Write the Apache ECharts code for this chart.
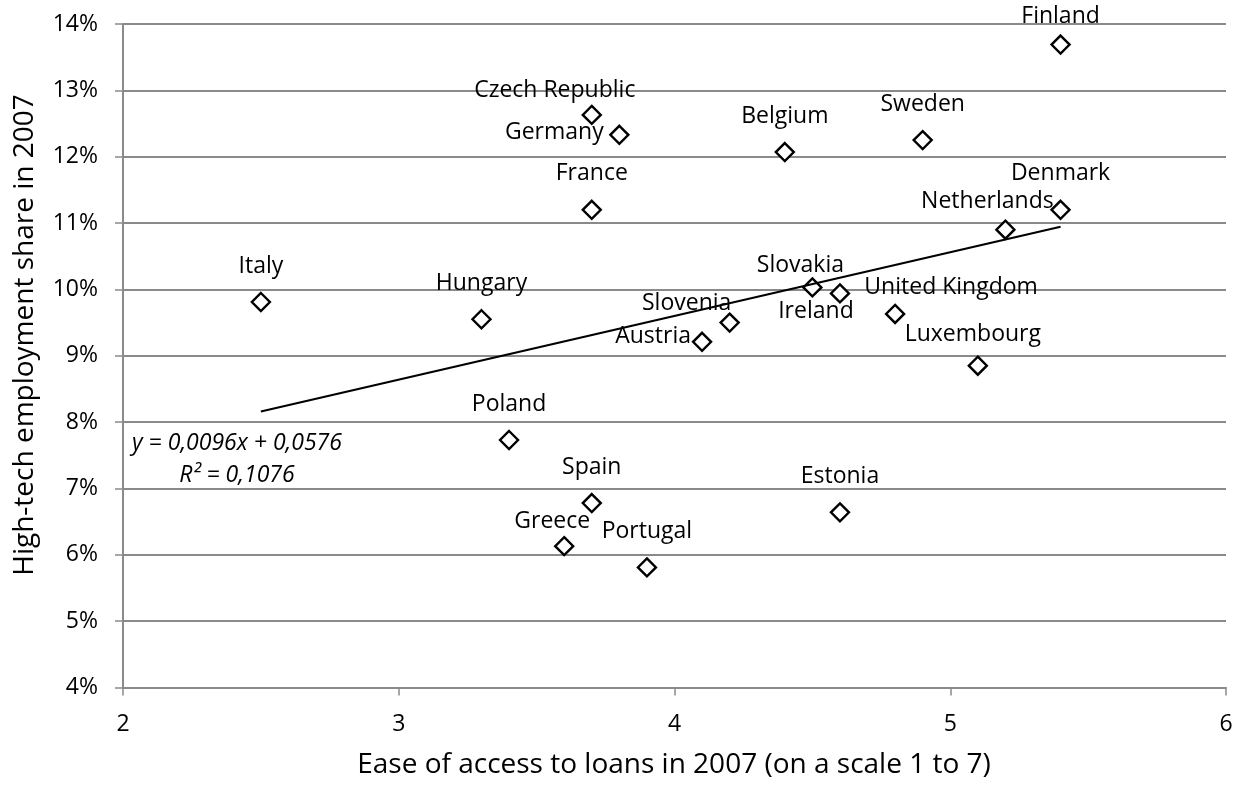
<!DOCTYPE html>
<html>
<head>
<meta charset="utf-8">
<style>
  html, body { margin: 0; padding: 0; background: #fff; }
  #chart { width: 1244px; height: 786px; }
</style>
<script src="https://cdn.jsdelivr.net/npm/echarts@6/dist/echarts.min.js"></script>
</head>
<body>
<div id="chart"></div>
<script>
// Countries and their values: ease of access to loans (1-7 scale) and high-tech employment share (%)
const countries = ['Finland', 'Czech Republic', 'Germany', 'Belgium', 'Sweden', 'France', 'Denmark',
  'Netherlands', 'Italy', 'Hungary', 'Slovakia', 'Ireland', 'United Kingdom', 'Slovenia', 'Austria',
  'Luxembourg', 'Poland', 'Spain', 'Greece', 'Portugal', 'Estonia'];
const loanEase = [5.4, 3.7, 3.8, 4.4, 4.9, 3.7, 5.4, 5.2, 2.5, 3.3, 4.5, 4.6, 4.8, 4.2, 4.1, 5.1, 3.4, 3.7, 3.6, 3.9, 4.6];
const hightechShare = [13.69, 12.63, 12.33, 12.07, 12.25, 11.20, 11.20, 10.90, 9.81, 9.55, 10.03, 9.94, 9.63, 9.50, 9.21,
  8.85, 7.73, 6.78, 6.13, 5.81, 6.64];

// Linear trend fitted to the shares (as fractions)
const trendSlope = 0.0096;
const trendIntercept = 0.0576;
const trendR2 = 0.1076;

// Axis ranges
const xTicks = [2, 3, 4, 5, 6];
const yTicks = [4, 5, 6, 7, 8, 9, 10, 11, 12, 13, 14];

// Label placement relative to each marker (pixels, label centre)
const defaultLabelOffset = [0, -36];
const labelOffsets = {
  'Finland': [0, -28],
  'Czech Republic': [-37, -24],
  'Germany': [-65, -2],
  'Netherlands': [-18, -28],
  'Slovakia': [-12, -22],
  'Ireland': [-24, 18],
  'United Kingdom': [56, -26],
  'Slovenia': [-43, -19],
  'Austria': [-49, -5],
  'Luxembourg': [-5, -31],
  'Greece': [-12, -25]
};

const FONT = '"Open Sans", "Liberation Sans", sans-serif';
const AXIS_GREY = '#8a8a8a';

const fmt = v => v.toFixed(4).replace('.', ',');

const points = countries.map((c, i) => ({
  name: c,
  value: [loanEase[i], hightechShare[i]],
  label: { offset: labelOffsets[c] || defaultLabelOffset }
}));

const xMinData = Math.min(...loanEase);
const xMaxData = Math.max(...loanEase);
const trendLine = [xMinData, xMaxData].map(x => [x, (trendSlope * x + trendIntercept) * 100]);

const chart = echarts.init(document.getElementById('chart'), null, { renderer: 'canvas' });

const option = {
  animation: false,
  backgroundColor: '#ffffff',
  textStyle: { fontFamily: FONT, color: '#000' },
  grid: {
    left: 123, right: 18, top: 24, bottom: 98.5,
    containLabel: false,
    outerBoundsMode: 'none'
  },
  xAxis: {
    type: 'value',
    min: xTicks[0],
    max: xTicks[xTicks.length - 1],
    interval: 1,
    axisLine: { show: true, lineStyle: { color: AXIS_GREY, width: 2 } },
    axisTick: { show: true, inside: false, length: 8, lineStyle: { color: AXIS_GREY, width: 1.5 } },
    axisLabel: { fontSize: 23, color: '#000', margin: 25, fontFamily: FONT },
    splitLine: { show: false }
  },
  yAxis: {
    type: 'value',
    min: yTicks[0],
    max: yTicks[yTicks.length - 1],
    interval: 1,
    axisLine: { show: true, lineStyle: { color: AXIS_GREY, width: 2 } },
    axisTick: { show: true, inside: false, length: 8, lineStyle: { color: AXIS_GREY, width: 1.5 } },
    axisLabel: { fontSize: 23, color: '#000', margin: 25, fontFamily: FONT, formatter: '{value}%' },
    splitLine: { show: true, lineStyle: { color: AXIS_GREY, width: 2 } }
  },
  series: [
    {
      type: 'scatter',
      data: points,
      symbol: 'diamond',
      symbolSize: 18,
      itemStyle: { color: '#ffffff', borderColor: '#000000', borderWidth: 2.4, opacity: 1 },
      label: {
        show: true,
        position: 'inside',
        align: 'center',
        verticalAlign: 'middle',
        formatter: '{b}',
        fontSize: 23,
        fontFamily: FONT,
        color: '#000'
      },
      emphasis: { disabled: true },
      z: 3
    },
    {
      type: 'line',
      data: trendLine,
      showSymbol: false,
      symbol: 'none',
      lineStyle: { color: '#000', width: 2.2 },
      emphasis: { disabled: true },
      silent: true,
      z: 4
    }
  ],
  graphic: [
    {
      type: 'text',
      x: 237, y: 443,
      style: {
        text: 'y = ' + fmt(trendSlope) + 'x + ' + fmt(trendIntercept),
        font: 'italic 23px ' + FONT,
        fill: '#000',
        textAlign: 'center',
        textVerticalAlign: 'middle'
      }
    },
    {
      type: 'text',
      x: 237, y: 475,
      style: {
        text: 'R² = ' + fmt(trendR2),
        font: 'italic 23px ' + FONT,
        fill: '#000',
        textAlign: 'center',
        textVerticalAlign: 'middle'
      }
    },
    {
      type: 'text',
      x: 674, y: 765,
      style: {
        text: 'Ease of access to loans in 2007 (on a scale 1 to 7)',
        font: '28px ' + FONT,
        fill: '#000',
        textAlign: 'center',
        textVerticalAlign: 'middle'
      }
    },
    {
      type: 'text',
      x: 25, y: 335,
      rotation: Math.PI / 2,
      style: {
        text: 'High-tech employment share in 2007',
        font: '28px ' + FONT,
        fill: '#000',
        textAlign: 'center',
        textVerticalAlign: 'middle'
      }
    }
  ]
};

chart.setOption(option);
</script>
</body>
</html>
